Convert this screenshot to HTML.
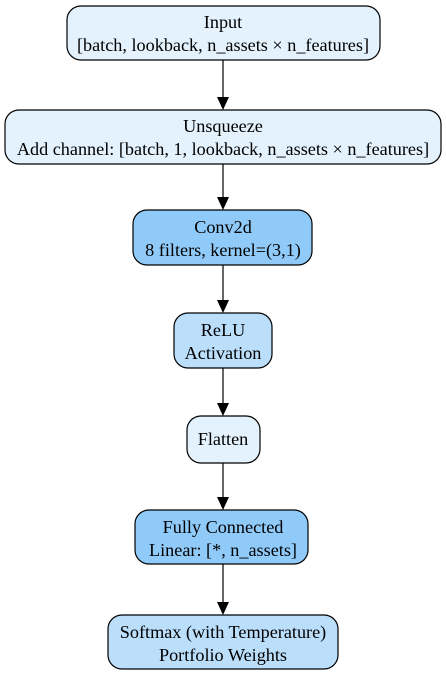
<!DOCTYPE html>
<html><head><style>body{margin:0;background:#fff}svg{display:block}</style></head><body>
<svg width="446" height="675" xmlns="http://www.w3.org/2000/svg" font-family="Liberation Serif, serif" font-size="18.2" text-anchor="middle" fill="#000">
<g stroke="#000" stroke-width="1.2">
<rect x="67" y="6" width="313" height="54" rx="14" fill="#E3F2FD"/>
<rect x="5" y="110" width="436" height="54" rx="14" fill="#E3F2FD"/>
<rect x="133" y="210" width="179" height="55" rx="14" fill="#90CAF9"/>
<rect x="174" y="313" width="98" height="55" rx="14" fill="#BBDEFB"/>
<rect x="187" y="416" width="73" height="47" rx="14" fill="#E3F2FD"/>
<rect x="135" y="510" width="173" height="54" rx="14" fill="#90CAF9"/>
<rect x="108" y="615" width="230" height="54" rx="14" fill="#BBDEFB"/>
<line x1="223" y1="60" x2="223" y2="98"/>
<line x1="223" y1="164" x2="223" y2="198"/>
<line x1="223" y1="265" x2="223" y2="301"/>
<line x1="223" y1="368" x2="223" y2="404"/>
<line x1="223" y1="463" x2="223" y2="498"/>
<line x1="223" y1="564" x2="223" y2="603"/>
</g>
<g fill="#000">
<polygon points="217,97 229,97 223,110"/>
<polygon points="217,197 229,197 223,210"/>
<polygon points="217,300 229,300 223,313"/>
<polygon points="217,403 229,403 223,416"/>
<polygon points="217,497 229,497 223,510"/>
<polygon points="217,602 229,602 223,615"/>
</g>
<text x="223" y="28">Input</text>
<text x="223" y="51">[batch, lookback, n_assets × n_features]</text>
<text x="223" y="132">Unsqueeze</text>
<text x="223" y="155">Add channel: [batch, 1, lookback, n_assets × n_features]</text>
<text x="223" y="233">Conv2d</text>
<text x="223" y="256">8 filters, kernel=(3,1)</text>
<text x="223" y="336">ReLU</text>
<text x="223" y="359">Activation</text>
<text x="223" y="445">Flatten</text>
<text x="223" y="533">Fully Connected</text>
<text x="223" y="556">Linear: [*, n_assets]</text>
<text x="223" y="638">Softmax (with Temperature)</text>
<text x="223" y="661">Portfolio Weights</text>
</svg>
</body></html>
